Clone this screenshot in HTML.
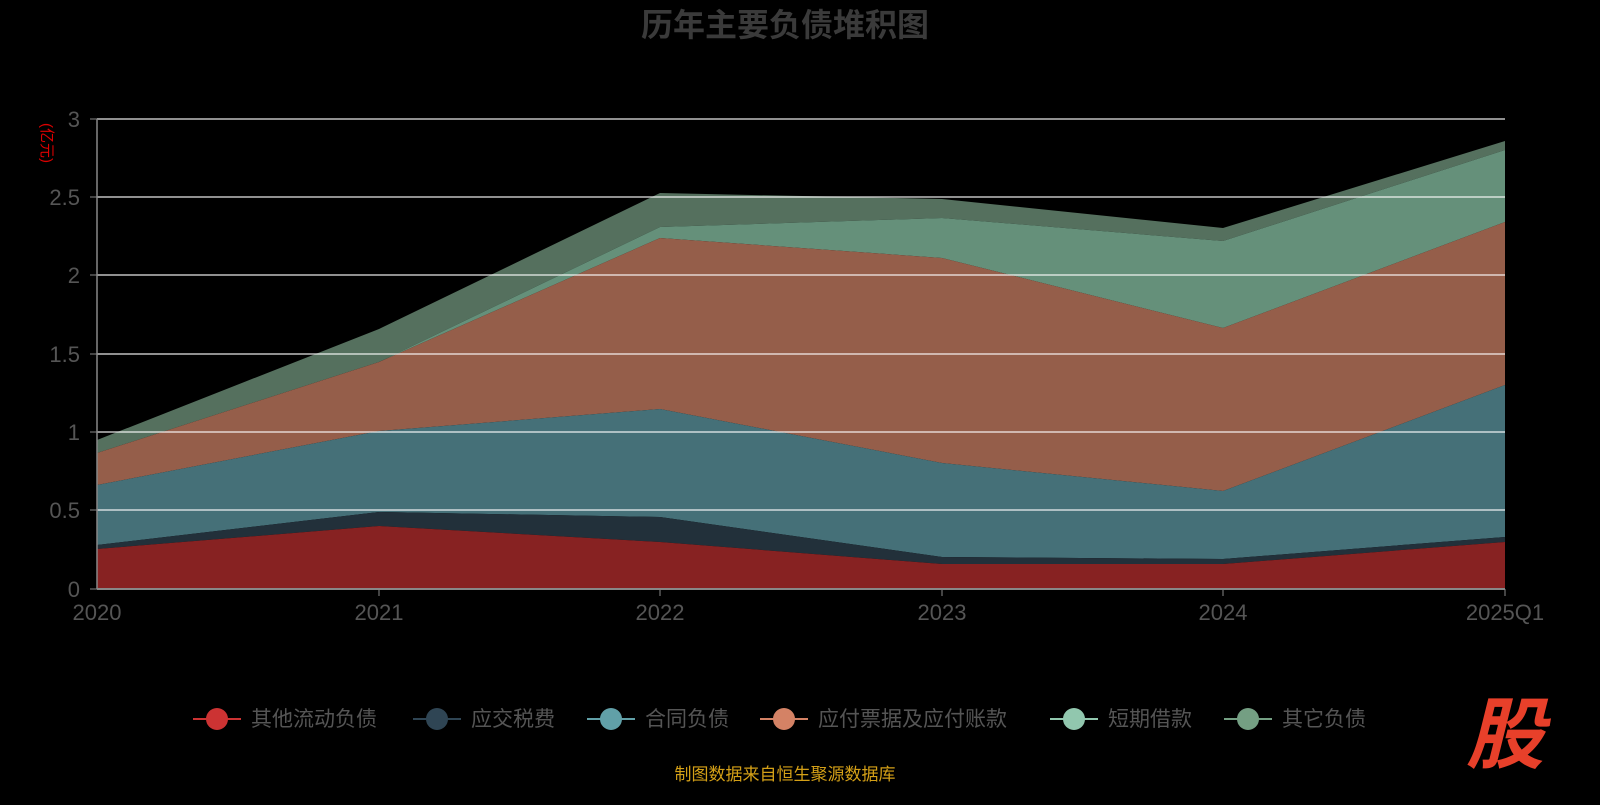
<!DOCTYPE html>
<html><head><meta charset="utf-8"><style>
body{margin:0;background:#000;width:1600px;height:800px;overflow:hidden;font-family:"Liberation Sans","Noto Sans CJK SC",sans-serif}
</style></head><body>
<svg width="1600" height="800" xmlns="http://www.w3.org/2000/svg" font-family="Liberation Sans, Noto Sans CJK SC, sans-serif">
<text x="785" y="36" text-anchor="middle" font-size="32" font-weight="bold" fill="#3a3a3a">历年主要负债堆积图</text>
<text x="42" y="143" font-size="15" fill="#d00" transform="rotate(90 42 143)" text-anchor="middle">(亿元)</text>
<!-- areas -->
<polygon fill="#55705e" points="97,440 379,329 660,193 942,199 1223,228 1505,141 1505,150 1223,241 942,218 660,227 379,362 97,453"/>
<polygon fill="#65907a" points="97,453 379,362 660,227 942,218 1223,241 1505,150 1505,222 1223,328 942,258 660,238 379,362 97,453"/>
<polygon fill="#955e4a" points="97,453 379,362 660,238 942,258 1223,328 1505,222 1505,385 1223,491 942,463 660,409 379,431 97,485"/>
<polygon fill="#457078" points="97,485 379,431 660,409 942,463 1223,491 1505,385 1505,537 1223,559 942,557 660,517 379,512 97,545"/>
<polygon fill="#22303a" points="97,545 379,512 660,517 942,557 1223,559 1505,537 1505,542 1223,564 942,564 660,542 379,526 97,549"/>
<polygon fill="#872222" points="97,549 379,526 660,542 942,564 1223,564 1505,542 1505,589 97,589"/>
<!-- grid -->
<g stroke="#fff" stroke-opacity="0.75" stroke-width="1.5">
<line x1="97" x2="1505" y1="119" y2="119"/><line x1="97" x2="1505" y1="197" y2="197"/>
<line x1="97" x2="1505" y1="275" y2="275"/><line x1="97" x2="1505" y1="354" y2="354"/>
<line x1="97" x2="1505" y1="432" y2="432"/><line x1="97" x2="1505" y1="510" y2="510"/>
</g>
<line x1="97" x2="1505" y1="589" y2="589" stroke="#888" stroke-width="2"/>
<line x1="97" x2="97" y1="119" y2="589" stroke="#888" stroke-width="1.5"/>
<g stroke="#888"><line x1="90" x2="97" y1="119" y2="119"/><line x1="90" x2="97" y1="197" y2="197"/><line x1="90" x2="97" y1="275" y2="275"/><line x1="90" x2="97" y1="354" y2="354"/><line x1="90" x2="97" y1="432" y2="432"/><line x1="90" x2="97" y1="510" y2="510"/><line x1="90" x2="97" y1="589" y2="589"/>
<line x1="379" x2="379" y1="589" y2="596"/><line x1="660" x2="660" y1="589" y2="596"/><line x1="942" x2="942" y1="589" y2="596"/><line x1="1223" x2="1223" y1="589" y2="596"/><line x1="1505" x2="1505" y1="589" y2="596"/></g>
<g font-size="22" fill="#555" text-anchor="end">
<text x="80" y="127">3</text><text x="80" y="205">2.5</text><text x="80" y="283">2</text><text x="80" y="362">1.5</text><text x="80" y="440">1</text><text x="80" y="518">0.5</text><text x="80" y="597">0</text></g>
<g font-size="22" fill="#555" text-anchor="middle">
<text x="97" y="620">2020</text><text x="379" y="620">2021</text><text x="660" y="620">2022</text><text x="942" y="620">2023</text><text x="1223" y="620">2024</text><text x="1505" y="620">2025Q1</text></g>
<!-- legend -->
<g font-size="21" fill="#555">
<line x1="193" x2="241" y1="719" y2="719" stroke="#c33" stroke-width="2"/><circle cx="217" cy="719" r="11" fill="#c33"/><text x="251" y="726">其他流动负债</text>
<line x1="413" x2="461" y1="719" y2="719" stroke="#2f4554" stroke-width="2"/><circle cx="437" cy="719" r="11" fill="#2f4554"/><text x="471" y="726">应交税费</text>
<line x1="587" x2="635" y1="719" y2="719" stroke="#61a0a8" stroke-width="2"/><circle cx="611" cy="719" r="11" fill="#61a0a8"/><text x="645" y="726">合同负债</text>
<line x1="760" x2="808" y1="719" y2="719" stroke="#d48265" stroke-width="2"/><circle cx="784" cy="719" r="11" fill="#d48265"/><text x="818" y="726">应付票据及应付账款</text>
<line x1="1050" x2="1098" y1="719" y2="719" stroke="#91c7ae" stroke-width="2"/><circle cx="1074" cy="719" r="11" fill="#91c7ae"/><text x="1108" y="726">短期借款</text>
<line x1="1224" x2="1272" y1="719" y2="719" stroke="#749f83" stroke-width="2"/><circle cx="1248" cy="719" r="11" fill="#749f83"/><text x="1282" y="726">其它负债</text>
</g>
<text x="785" y="780" text-anchor="middle" font-size="17" fill="#d4a017">制图数据来自恒生聚源数据库</text>
<text x="1505" y="762" text-anchor="middle" font-size="78" font-weight="bold" font-style="italic" fill="#e8402a">股</text>
</svg>
</body></html>
